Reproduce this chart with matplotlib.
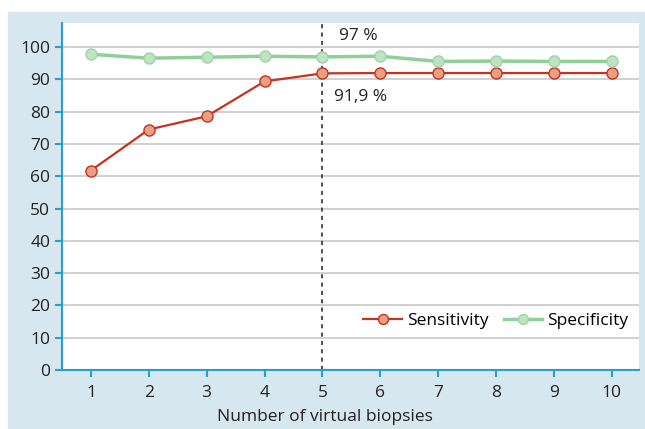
import numpy as np
import matplotlib.pyplot as plt
from matplotlib.patches import Rectangle

biopsies = [1, 2, 3, 4, 5, 6, 7, 8, 9, 10]
sensitivity = [61.8, 74.5, 78.6, 89.4, 91.9, 92.0, 92.0, 92.0, 92.0, 92.0]
specificity = [97.8, 96.6, 96.9, 97.2, 97.0, 97.2, 95.6, 95.7, 95.6, 95.6]
yticks = [0, 10, 20, 30, 40, 50, 60, 70, 80, 90, 100]

plt.rcParams['font.family'] = ['Open Sans', 'DejaVu Sans']

blue = '#2a9fcc'
panel = '#d7e7ef'

fig = plt.figure(figsize=(6.45, 4.29), dpi=100)
fig.patches.append(Rectangle((8 / 645, 0), 1, 1 - 12 / 429,
                             transform=fig.transFigure, color=panel, zorder=-10))

ax = fig.add_axes([62 / 645, 1 - 370 / 429, (639 - 62) / 645, (370 - 23) / 429])
ax.set_facecolor('white')

ax.plot(biopsies, sensitivity, color='#c63220', lw=1.6, marker='o', ms=8,
        mfc='#e89f84', mec='#c63220', mew=1, label='Sensitivity', zorder=3)
ax.plot(biopsies, specificity, color='#8fcf98', lw=2.5, marker='o', ms=8,
        mfc='#bfe2c2', mec='#9fd4a6', mew=1, label='Specificity', zorder=3)

ax.axvline(5, color='#333333', lw=1.2, ls=(0, (2.5, 2.5)), zorder=2)
ax.text(5.28, 103.6, '97 %', fontsize=12.5, color='#222222', va='center')
ax.text(5.2, 84.6, '91,9 %', fontsize=12.5, color='#222222', va='center')

ax.set_xlim(0.5, 10.47)
ax.set_ylim(0, 107.5)
ax.set_xticks(biopsies)
ax.set_yticks(yticks)
for y in yticks[1:]:
    ax.axhline(y, color='#c8c8c8', lw=1.2, zorder=1)

for s in ['top', 'right']:
    ax.spines[s].set_visible(False)
for s in ['left', 'bottom']:
    ax.spines[s].set_color(blue)
    ax.spines[s].set_linewidth(1.5)
ax.tick_params(colors=blue, labelcolor='#222222', labelsize=12.5, width=1.5, length=5)
ax.tick_params(axis='x', pad=6)

ax.set_xlabel('Number of virtual biopsies', fontsize=12.5, color='#222222', va='center')
ax.xaxis.set_label_coords(0.455, -0.135)

ax.legend(loc='center right', bbox_to_anchor=(1.0, 0.141), frameon=False, ncol=2,
          fontsize=12.5, handlelength=2.2, columnspacing=0.9, handletextpad=0.3,
          borderaxespad=0.2, markerscale=0.9)

plt.savefig('out.png', dpi=100)
